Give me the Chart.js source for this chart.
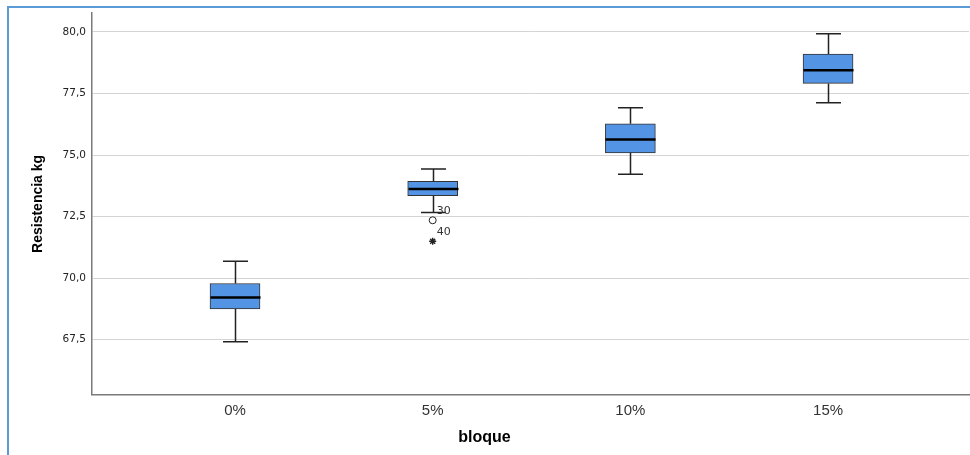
<!DOCTYPE html>
<html>
<head>
<meta charset="utf-8">
<script src="https://cdn.jsdelivr.net/npm/chart.js@4.4.1/dist/chart.umd.min.js"></script>
<style>
  html, body { margin: 0; padding: 0; background: #ffffff; overflow: hidden; }
  #wrap { position: relative; width: 970px; height: 455px; }
  #c { position: absolute; left: 0; top: 0; }
  #frame { position: absolute; left: 7px; top: 6px; width: 980px; height: 470px;
           border-top: 2px solid #5B9BD5; border-left: 2px solid #5B9BD5; pointer-events: none; }
</style>
</head>
<body>
<div id="wrap">
  <canvas id="c" width="970" height="455"></canvas>
  <div id="frame"></div>
</div>
<script>
// ---- data ----
const categories  = ['0%', '5%', '10%', '15%'];
const whiskerLow  = [67.42, 72.67, 74.22, 77.12];
const q1          = [68.75, 73.35, 75.09, 77.91];
const median      = [69.21, 73.62, 75.63, 78.44];
const q3          = [69.78, 73.93, 76.27, 79.10];
const whiskerHigh = [70.69, 74.43, 76.92, 79.93];
// outliers: category index, value, case label, kind
const outlierCat   = [1, 1];
const outlierValue = [72.35, 71.50];
const outlierLabel = ['30', '40'];
const outlierKind  = ['circle', 'star'];
const yTicks = [67.5, 70.0, 72.5, 75.0, 77.5, 80.0];

Chart.defaults.font.family = "'Liberation Sans', Arial, sans-serif";

const boxData = categories.map((c, i) => ({ x: i, y: [q1[i], q3[i]] }));
const outData = outlierCat.map((c, i) => ({ x: c, y: outlierValue[i] }));

const boxPlugin = {
  id: 'boxExtras',
  afterDatasetsDraw(chart) {
    const ctx = chart.ctx, xs = chart.scales.x, ys = chart.scales.y;
    ctx.save();
    categories.forEach((c, i) => {
      const cx = Math.round(xs.getPixelForValue(i)) + 0.5;
      const yLo = ys.getPixelForValue(whiskerLow[i]);
      const yHi = ys.getPixelForValue(whiskerHigh[i]);
      const yQ1 = ys.getPixelForValue(q1[i]);
      const yQ3 = ys.getPixelForValue(q3[i]);
      const yMed = ys.getPixelForValue(median[i]);
      ctx.strokeStyle = '#222';
      ctx.lineWidth = 1.5;
      ctx.beginPath();
      ctx.moveTo(cx, yQ3); ctx.lineTo(cx, yHi);
      ctx.moveTo(cx, yQ1); ctx.lineTo(cx, yLo);
      ctx.moveTo(cx - 12.5, yHi); ctx.lineTo(cx + 12.5, yHi);
      ctx.moveTo(cx - 12.5, yLo); ctx.lineTo(cx + 12.5, yLo);
      ctx.stroke();
      ctx.strokeStyle = '#000';
      ctx.lineWidth = 2.5;
      ctx.beginPath();
      ctx.moveTo(cx - 25, yMed); ctx.lineTo(cx + 25, yMed);
      ctx.stroke();
    });
    ctx.fillStyle = '#333';
    ctx.font = "11px 'DejaVu Sans'";
    ctx.textAlign = 'left';
    ctx.textBaseline = 'middle';
    outlierCat.forEach((c, i) => {
      const px = xs.getPixelForValue(c);
      const py = ys.getPixelForValue(outlierValue[i]);
      ctx.fillText(outlierLabel[i], px + 4, py - 9);
    });
    ctx.restore();
  }
};

new Chart(document.getElementById('c'), {
  type: 'bar',
  data: {
    datasets: [
      {
        type: 'bar',
        data: boxData,
        backgroundColor: '#5394E4',
        borderColor: '#333333',
        borderWidth: 1,
        borderSkipped: false,
        barThickness: 50,
        order: 2
      },
      {
        type: 'scatter',
        data: outData,
        pointStyle: outlierKind,
        pointRadius: [3.5, 3.5],
        backgroundColor: 'rgba(0,0,0,0)',
        borderColor: '#222222',
        borderWidth: [1, 1.4],
        order: 1
      }
    ]
  },
  options: {
    responsive: false,
    animation: false,
    devicePixelRatio: 1,
    layout: { autoPadding: false, padding: { left: 0, right: 1, top: 13, bottom: 0 } },
    plugins: {
      legend: { display: false },
      tooltip: { enabled: false },
      title: {
        display: true,
        position: 'bottom',
        text: 'bloque',
        color: '#000',
        font: { size: 16, weight: 'bold' },
        padding: { top: 3, bottom: 8 }
      }
    },
    scales: {
      x: {
        type: 'linear',
        offset: false,
        min: -0.7234,
        max: 3.713,
        grid: { display: false, drawTicks: false, offset: false },
        border: { display: true, color: '#7a7a7a', width: 1.5 },
        afterBuildTicks(scale) { scale.ticks = categories.map((c, i) => ({ value: i })); },
        afterFit(scale) { scale.height = 30; scale.paddingLeft = 0; scale.paddingRight = 0; },
        ticks: {
          autoSkip: false,
          maxRotation: 0,
          padding: 7,
          color: '#333',
          font: { size: 15 },
          callback: (v) => categories[v]
        }
      },
      y: {
        min: 65.26,
        max: 80.77,
        grid: { color: '#d4d4d4', lineWidth: 1, drawTicks: false },
        border: { display: true, color: '#7a7a7a', width: 1.5 },
        afterBuildTicks(scale) { scale.ticks = yTicks.map(v => ({ value: v })); },
        afterFit(scale) { scale.width = 92; scale.paddingTop = 0; scale.paddingBottom = 0; },
        ticks: {
          padding: 6,
          color: '#222',
          font: { family: "'DejaVu Sans'", size: 10.5 },
          callback: (v) => v.toFixed(1).replace('.', ',')
        },
        title: {
          display: true,
          text: 'Resistencia kg',
          color: '#000',
          font: { size: 14, weight: 'bold' },
          padding: { top: 30, bottom: 0 }
        }
      }
    }
  },
  plugins: [boxPlugin]
});
</script>
</body>
</html>
